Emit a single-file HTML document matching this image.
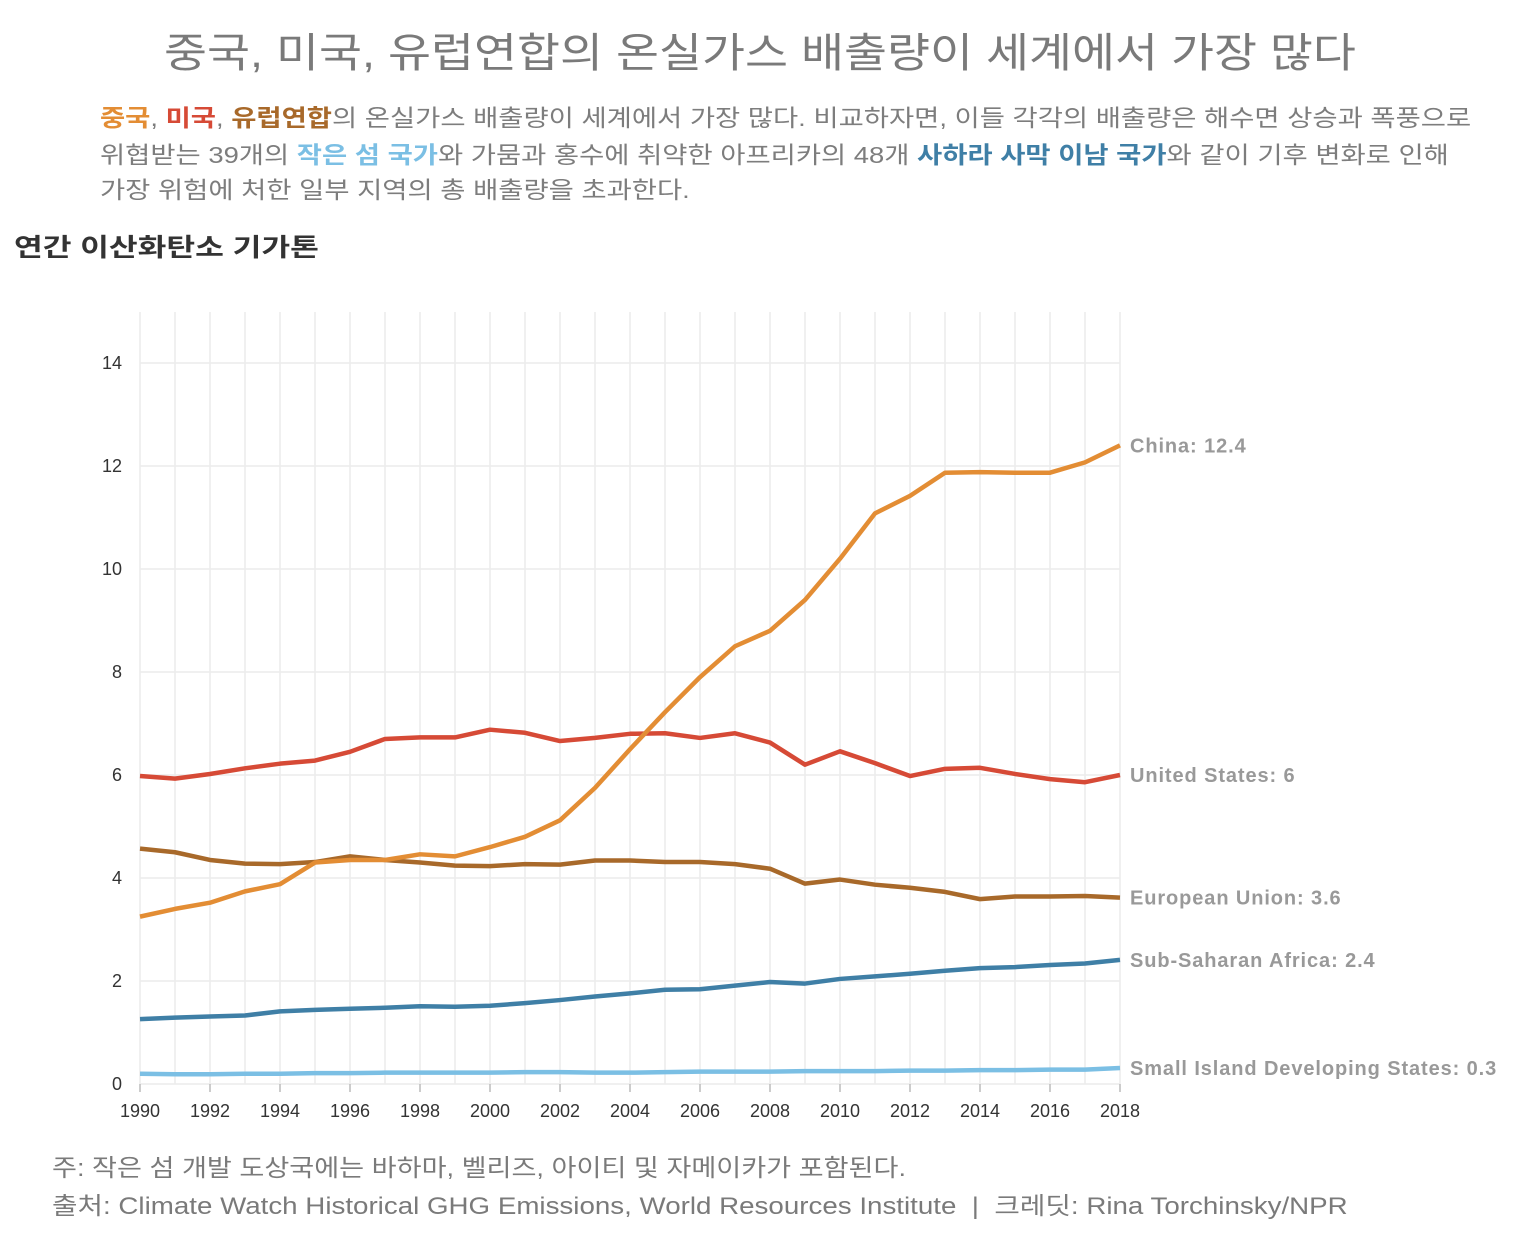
<!DOCTYPE html>
<html><head><meta charset="utf-8">
<style>
body{margin:0;width:1520px;height:1250px;background:#fff;font-family:"Liberation Sans","Noto Sans CJK KR",sans-serif;position:relative;overflow:hidden}
.t{position:absolute;white-space:nowrap;transform-origin:0 0}
#title{left:0;width:1520px;text-align:center;top:26px;font-size:41px;color:#7a7a7a;line-height:54px;transform:scaleX(1.14);transform-origin:760px 0}
.sub{left:100px;font-size:23.5px;color:#7d7d7d;line-height:34px;transform:scaleX(1.165)}
b{font-weight:700}
#ytitle{left:14px;top:230px;font-size:25px;font-weight:700;color:#333;line-height:36px;transform:scaleX(1.25)}
.foot{left:52px;font-size:24px;color:#7a7a7a;line-height:32px}
svg{position:absolute;left:0;top:0}
</style></head><body>
<div class="t" id="title">중국, 미국, 유럽연합의 온실가스 배출량이 세계에서 가장 많다</div>
<div class="t sub" style="top:101px"><b style="color:#e38d34">중국</b>, <b style="color:#d64a36">미국</b>, <b style="color:#a8692a">유럽연합</b>의 온실가스 배출량이 세계에서 가장 많다. 비교하자면, 이들 각각의 배출량은 해수면 상승과 폭풍으로</div>
<div class="t sub" style="top:138px">위협받는 39개의 <b style="color:#7bbfe4">작은 섬 국가</b>와 가뭄과 홍수에 취약한 아프리카의 48개 <b style="color:#3f7fa6">사하라 사막 이남 국가</b>와 같이 기후 변화로 인해</div>
<div class="t sub" style="top:173px">가장 위험에 처한 일부 지역의 총 배출량을 초과한다.</div>
<div class="t" id="ytitle">연간 이산화탄소 기가톤</div>
<div class="t foot" style="top:1153px;transform:scaleX(1.13)">주: 작은 섬 개발 도상국에는 바하마, 벨리즈, 아이티 및 자메이카가 포함된다.</div>
<div class="t foot" style="top:1191px;transform:scaleX(1.155)">출처: Climate Watch Historical GHG Emissions, World Resources Institute &nbsp;|&nbsp; 크레딧: Rina Torchinsky/NPR</div>
<svg id="chart" width="1520" height="1250"></svg>
<script>
const years=[1990,1991,1992,1993,1994,1995,1996,1997,1998,1999,2000,2001,2002,2003,2004,2005,2006,2007,2008,2009,2010,2011,2012,2013,2014,2015,2016,2017,2018];
const china=[3.25,3.4,3.52,3.74,3.88,4.3,4.35,4.35,4.46,4.42,4.6,4.8,5.12,5.75,6.5,7.22,7.9,8.5,8.8,9.4,10.2,11.08,11.42,11.87,11.88,11.87,11.87,12.07,12.4];
const us=[5.98,5.93,6.02,6.13,6.22,6.28,6.45,6.7,6.73,6.73,6.88,6.82,6.66,6.72,6.8,6.81,6.72,6.81,6.63,6.2,6.46,6.23,5.98,6.12,6.14,6.02,5.92,5.86,6.0];
const eu=[4.57,4.5,4.35,4.28,4.27,4.31,4.42,4.35,4.3,4.24,4.23,4.27,4.26,4.34,4.34,4.31,4.31,4.27,4.18,3.89,3.97,3.87,3.81,3.73,3.59,3.64,3.64,3.65,3.62];
const ssa=[1.26,1.29,1.31,1.33,1.41,1.44,1.46,1.48,1.51,1.5,1.52,1.57,1.63,1.7,1.76,1.83,1.84,1.91,1.98,1.95,2.04,2.09,2.14,2.2,2.25,2.27,2.31,2.34,2.41];
const sids=[0.2,0.19,0.19,0.2,0.2,0.21,0.21,0.22,0.22,0.22,0.22,0.23,0.23,0.22,0.22,0.23,0.24,0.24,0.24,0.25,0.25,0.25,0.26,0.26,0.27,0.27,0.28,0.28,0.31];
const yTicks=[0,2,4,6,8,10,12,14];
const xTicks=[1990,1992,1994,1996,1998,2000,2002,2004,2006,2008,2010,2012,2014,2016,2018];
const labels=["China: 12.4","United States: 6","European Union: 3.6","Sub-Saharan Africa: 2.4","Small Island Developing States: 0.3"];

const svg=document.getElementById('chart');
const NS='http://www.w3.org/2000/svg';
const X0=140,X1=1120,Y0=1084,Y14=363;
const x=y=>X0+(y-1990)*(X1-X0)/28;
const yv=v=>Y0-v*(Y0-Y14)/14;
function mk(t,a){const e=document.createElementNS(NS,t);for(const k in a)e.setAttribute(k,a[k]);svg.appendChild(e);return e;}
for(let yr=1990;yr<=2018;yr++){
  const g=mk('line',{x1:x(yr),x2:x(yr),y1:312,y2:Y0,stroke:'#ececec','stroke-width':1.5});
  
  
}
yTicks.forEach(v=>{
  const g=mk('line',{x1:X0,x2:X1,y1:yv(v),y2:yv(v),stroke:'#ececec','stroke-width':1.5});
  
  
  const t=mk('text',{x:122,y:yv(v)+6,'text-anchor':'end','font-size':18,fill:'#333','font-family':'Liberation Sans, sans-serif'});
  t.textContent=v;
  
  
});
xTicks.forEach(yr=>{
  const tk=mk('line',{x1:x(yr),x2:x(yr),y1:Y0,y2:Y0+8,stroke:'#bbb','stroke-width':1.5});
  
  
  const t=mk('text',{x:x(yr),y:Y0+33,'text-anchor':'middle','font-size':18,fill:'#333','font-family':'Liberation Sans, sans-serif'});
  t.textContent=yr;
  
  
});
const series=[[china,'#e38d34','china-line'],[us,'#d64a36','us-line'],[eu,'#a8692a','eu-line'],[ssa,'#3f7fa6','ssa-line'],[sids,'#7bbfe4','sids-line']];
const sorder=[sids,ssa,eu,us,china];
sorder.forEach(d=>{
  const s=series.find(q=>q[0]===d);
  const p=mk('polyline',{points:years.map((yr,i)=>x(yr)+','+yv(d[i])).join(' '),fill:'none',stroke:s[1],'stroke-width':4.5,'stroke-linejoin':'round'});
  
  
});
series.forEach((s,i)=>{
  const d=s[0];
  const t=mk('text',{x:1130,y:yv(d[d.length-1])+7,'font-size':20,'font-weight':'bold',fill:'#999','letter-spacing':0.9,'font-family':'Liberation Sans, sans-serif'});
  t.textContent=labels[i];
  
  
});
</script>
</body></html>
